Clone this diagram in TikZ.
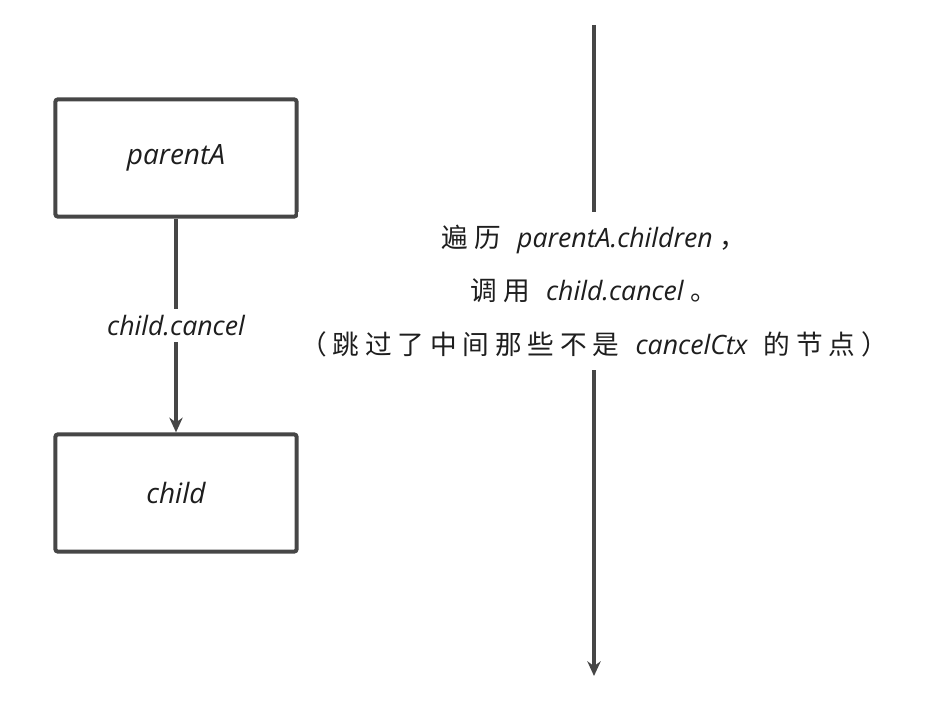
\documentclass[tikz,border=0pt]{standalone}
\usepackage{fontspec}
\setmainfont{Open Sans}
\newfontfamily\cjk{Noto Sans CJK SC}[LetterSpace=22]
\newcommand\lat[1]{{\normalfont\itshape #1}}
\newcommand\gap{\hspace{0.6em}}
\usetikzlibrary{arrows.meta,positioning}

\definecolor{inkgrey}{RGB}{70,70,70}
\definecolor{inktext}{RGB}{30,30,30}

\tikzset{
  ctxbox/.style={draw=inkgrey, line width=3pt, rounded corners=2pt,
    minimum width=181pt, minimum height=88pt, text=inktext,
    font=\fontsize{21}{25}\selectfont\itshape},
  flow/.style={draw=inkgrey, line width=2.6pt, -{Stealth[length=11pt,width=10pt]}},
  lbl/.style={fill=white, text=inktext, align=center,
    font=\fontsize{20}{40}\selectfont}
}

\begin{document}
\begin{tikzpicture}[x=0.75pt,y=-0.75pt]
        \useasboundingbox (0,0) rectangle (944,712);

        % left: parentA -> child
        \node[ctxbox] (parentA) at (176,158) {parentA};
        \node[ctxbox] (child) at (176,493) {child};
        \draw[flow] (parentA) -- (child)
          node[lbl, pos=0.5, inner sep=5pt] (call) {\lat{child.cancel}};

        % right: walk over parentA.children
        \coordinate (top) at (594,25);
        \coordinate (bottom) at (594,676);
        \draw[flow] (top) -- (bottom);
        \node[lbl, inner xsep=2pt, inner ysep=10pt] (walk) at (594,291)
          {{\cjk 遍历}\gap\lat{parentA.children}\hspace{0.25em}{\cjk ，}\\
           {\cjk 调用}\gap\lat{child.cancel}\hspace{0.25em}{\cjk 。}\\
           {\cjk （跳过了中间那些不是}\gap\lat{cancelCtx}\gap{\cjk 的节点）}};
\end{tikzpicture}
\end{document}
